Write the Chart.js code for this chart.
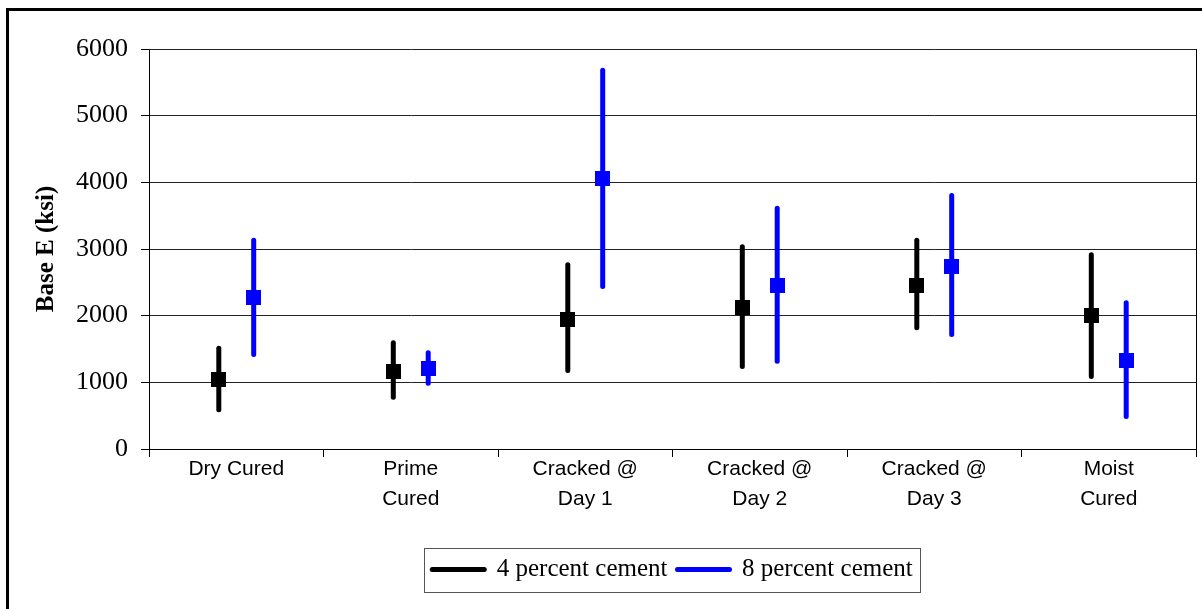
<!DOCTYPE html>
<html>
<head>
<meta charset="utf-8">
<script src="https://cdn.jsdelivr.net/npm/chart.js@4"></script>
<style>
  html, body { margin: 0; padding: 0; background: #fff; }
  canvas { display: block; }
</style>
</head>
<body>
<canvas id="chart" width="1202" height="609"></canvas>
<script>
const categories = ['Dry Cured', ['Prime', 'Cured'], ['Cracked @', 'Day 1'], ['Cracked @', 'Day 2'], ['Cracked @', 'Day 3'], ['Moist', 'Cured']];
const seriesNames = ['4 percent cement', '8 percent cement'];
const seriesColors = ['#000000', '#0000ff'];

// base modulus per curing condition (ksi): min / mean / max
const low4 = [550, 740, 1140, 1200, 1780, 1050];
const mean4 = [1050, 1170, 1950, 2120, 2460, 2000];
const high4 = [1550, 1630, 2800, 3070, 3170, 2950];

const low8 = [1380, 950, 2400, 1280, 1680, 450];
const mean8 = [2270, 1210, 4050, 2460, 2745, 1330];
const high8 = [3170, 1480, 5720, 3650, 3840, 2230];

const yTicks = [0, 1000, 2000, 3000, 4000, 5000, 6000];

const means = [mean4, mean8];
const ranges = [
  low4.map((v, i) => [v, high4[i]]),
  low8.map((v, i) => [v, high8[i]])
];

const serif = 'Liberation Serif';
const sans = 'Liberation Sans';

// white page with the heavy frame on the left and top
const pageFrame = {
  id: 'pageFrame',
  beforeDraw(chart) {
    const ctx = chart.ctx;
    ctx.save();
    ctx.fillStyle = '#fff';
    ctx.fillRect(0, 0, chart.width, chart.height);
    ctx.strokeStyle = '#000';
    ctx.lineWidth = 3;
    ctx.beginPath();
    ctx.moveTo(7.5, chart.height);
    ctx.lineTo(7.5, 9.5);
    ctx.lineTo(chart.width, 9.5);
    ctx.stroke();
    ctx.restore();
  }
};

// square marker at the mean of each range bar
const meanMarkers = {
  id: 'meanMarkers',
  afterDatasetsDraw(chart) {
    const ctx = chart.ctx;
    const y = chart.scales.y;
    means.forEach((vals, d) => {
      const meta = chart.getDatasetMeta(d);
      ctx.save();
      ctx.fillStyle = seriesColors[d];
      meta.data.forEach((bar, i) => {
        const py = y.getPixelForValue(vals[i]);
        ctx.fillRect(Math.round(bar.x - 7.5), Math.round(py - 7.5), 15, 15);
      });
      ctx.restore();
    });
  }
};

// centre the legend under the plot and box it
const legendFrame = {
  id: 'legendFrame',
  afterLayout(chart) {
    const lg = chart.legend;
    const a = chart.chartArea;
    const shift = (a.left + a.right) / 2 - (lg.left + lg.right) / 2;
    lg.left += shift;
    lg.right += shift;
  },
  afterDraw(chart) {
    const boxes = chart.legend.legendHitBoxes;
    if (!boxes || !boxes.length) return;
    const left = Math.min(...boxes.map(b => b.left)) - 8;
    const right = Math.max(...boxes.map(b => b.left + b.width)) + 8;
    const mid = boxes[0].top + boxes[0].height / 2;
    const ctx = chart.ctx;
    ctx.save();
    ctx.strokeStyle = '#555';
    ctx.lineWidth = 1;
    ctx.strokeRect(Math.round(left) + 0.5, Math.round(mid - 22) + 0.5, Math.round(right - left), 44);
    ctx.restore();
  }
};

new Chart(document.getElementById('chart'), {
  type: 'bar',
  data: {
    labels: categories,
    datasets: seriesNames.map((name, d) => ({
      label: name,
      data: ranges[d],
      backgroundColor: seriesColors[d],
      borderWidth: 0,
      borderRadius: 3,
      borderSkipped: false,
      categoryPercentage: 0.4,
      barPercentage: 1,
      maxBarThickness: 5
    }))
  },
  options: {
    responsive: false,
    animation: false,
    devicePixelRatio: 1,
    layout: { padding: { top: 49, right: 6, bottom: 17, left: 0 } },
    plugins: {
      tooltip: { enabled: false },
      legend: {
        position: 'bottom',
        labels: {
          usePointStyle: true,
          pointStyleWidth: 52,
          padding: 10,
          color: '#000',
          font: { family: serif, size: 25 },
          generateLabels: chart => chart.data.datasets.map((ds, i) => ({
            text: ds.label,
            datasetIndex: i,
            fillStyle: seriesColors[i],
            strokeStyle: seriesColors[i],
            lineWidth: 5,
            lineCap: 'round',
            pointStyle: 'line',
            hidden: false
          }))
        }
      }
    },
    scales: {
      x: {
        offset: true,
        grid: {
          offset: true,
          color: c => (c.index === undefined || c.index === 0) ? '#000' : 'transparent',
          tickColor: '#000',
          tickLength: 8
        },
        border: { color: '#000' },
        ticks: {
          color: '#000',
          font: { family: sans, size: 21, lineHeight: 1.4 },
          padding: -2,
          maxRotation: 0,
          autoSkip: false
        },
        afterFit: s => { s.height = 98; }
      },
      y: {
        min: 0,
        max: 6000,
        afterBuildTicks: s => { s.ticks = yTicks.map(v => ({ value: v })); },
        grid: { color: '#222', tickColor: '#000', tickLength: 8 },
        border: { color: '#000' },
        ticks: {
          color: '#000',
          font: { family: serif, size: 26 },
          padding: 13,
          callback: v => String(v)
        },
        title: {
          display: true,
          text: 'Base E (ksi)',
          color: '#000',
          font: { family: serif, size: 25, weight: 'bold' },
          padding: { top: 32, bottom: 0 }
        },
        afterFit: s => { s.width = 149; }
      }
    }
  },
  plugins: [pageFrame, meanMarkers, legendFrame]
});
</script>
</body>
</html>
